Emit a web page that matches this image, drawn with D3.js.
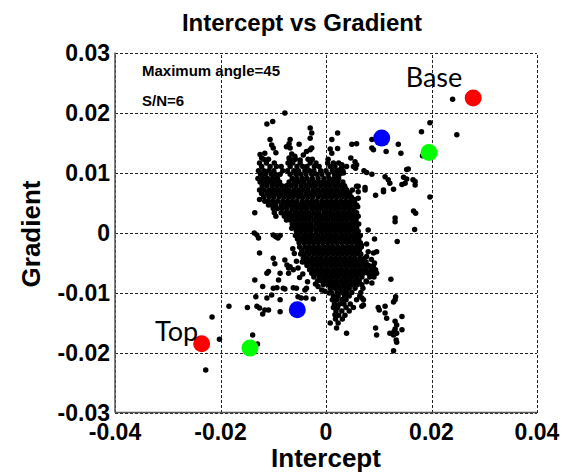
<!DOCTYPE html>
<html>
<head>
<meta charset="utf-8">
<script src="https://cdn.jsdelivr.net/npm/d3@7"></script>
<style>
  html, body { margin: 0; padding: 0; background: #fff; }
  svg { display: block; }
</style>
</head>
<body>
<svg id="chart" width="563" height="475"></svg>
<script>
// ---------------- DATA ----------------
const chartTitle = "Intercept vs Gradient";
const xAxisTitle = "Intercept";
const yAxisTitle = "Gradient";
const xTickValues = [-0.04, -0.02, 0, 0.02, 0.04];
const xTickLabels = ["-0.04", "-0.02", "0", "0.02", "0.04"];
const yTickValues = [-0.03, -0.02, -0.01, 0, 0.01, 0.02, 0.03];
const yTickLabels = ["-0.03", "-0.02", "-0.01", "0", "0.01", "0.02", "0.03"];
const infoLines = ["Maximum angle=45", "S/N=6"];

// dense core of the cloud, read row by row: [gradient (×1e-3), [intercepts (×1e-3)]]
const coreRows = [
  [12.2, [-11.8, -10.9, -6.9, -5.8, -3.4, -2.6, 0.4]],
  [11.6, [-12.6, -11.3, -9.8, -7.2, -6.3, -4.9, -3.0, -1.9, 0.3, 1.4, 2.4]],
  [11.0, [-12.2, -10.6, -9.4, -8.5, -6.8, -5.5, -4.4, -3.6, -2.2, -1.3, 0.8, 1.7, 3.0, 3.9]],
  [10.3, [-12.8, -11.8, -10.9, -9.9, -8.2, -7.3, -6.1, -5.2, -4.0, -3.1, -2.3, -1.0, 0.0, 1.2, 2.2, 3.2]],
  [9.7, [-12.4, -11.5, -10.4, -9.6, -8.7, -6.8, -5.7, -4.8, -3.8, -2.7, -1.8, -0.8, 0.4, 1.6, 2.6]],
  [9.0, [-12.9, -12.0, -11.1, -10.1, -9.2, -6.4, -5.5, -4.5, -3.6, -2.6, -1.5, -0.4, 0.6, 1.5, 2.4]],
  [8.4, [-12.5, -11.6, -10.7, -9.8, -8.8, -7.0, -6.0, -5.1, -4.2, -3.2, -2.3, -1.4, -0.5, 0.4, 1.3, 2.2, 3.2]],
  [7.8, [-12.1, -11.2, -10.2, -9.3, -8.4, -7.5, -6.6, -5.7, -4.7, -3.8, -2.9, -2.0, -1.0, -0.1, 0.8, 1.7, 2.6, 3.5]],
  [7.1, [-12.6, -11.7, -10.7, -9.8, -8.9, -8.0, -7.1, -6.1, -5.2, -4.3, -3.4, -2.4, -1.5, -0.6, 0.3, 1.2, 2.1, 3.0, 3.9, 5.0]],
  [6.5, [-12.2, -11.2, -10.3, -9.4, -8.5, -7.5, -6.6, -5.7, -4.8, -3.8, -2.9, -2.0, -1.1, -0.1, 0.8, 1.7, 2.6, 3.5, 4.4]],
  [5.9, [-11.8, -10.8, -9.9, -8.9, -8.0, -7.1, -6.2, -5.2, -4.3, -3.4, -2.5, -1.5, -0.6, 0.3, 1.2, 2.1, 3.0, 3.9, 4.8]],
  [5.2, [-11.6, -11.0, -10.1, -9.2, -8.2, -7.3, -6.4, -5.5, -4.5, -3.6, -2.7, -1.8, -0.8, 0.1, 1.0, 1.9, 2.8, 3.7, 4.6, 5.4]],
  [4.6, [-10.9, -10.3, -9.6, -8.5, -7.7, -6.8, -5.9, -5.0, -4.1, -3.1, -2.2, -1.3, -0.4, 0.5, 1.4, 2.3, 3.2, 4.1, 5.0, 5.8]],
  [4.0, [-10.0, -9.2, -8.3, -7.4, -6.4, -5.5, -4.6, -3.7, -2.7, -1.8, -0.9, 0.0, 0.9, 1.8, 2.7, 3.6, 4.5, 5.3]],
  [3.3, [-9.8, -8.5, -7.6, -6.8, -5.9, -5.0, -4.1, -3.2, -2.3, -1.4, -0.4, 0.5, 1.4, 2.3, 3.2, 4.1, 5.0, 5.8]],
  [2.7, [-9.5, -7.9, -7.2, -6.4, -5.5, -4.6, -3.7, -2.8, -1.8, -0.9, 0.0, 0.9, 1.8, 2.7, 3.6, 4.5, 5.4]],
  [2.1, [-7.5, -6.8, -5.9, -5.0, -4.1, -3.2, -2.3, -1.4, -0.5, 0.4, 1.3, 2.2, 3.1, 4.0, 4.9, 5.7]],
  [1.4, [-6.4, -5.5, -4.6, -3.7, -2.8, -1.8, -0.9, 0.0, 0.9, 1.8, 2.7, 3.6, 4.5, 5.4, 6.2]],
  [0.8, [-6.0, -5.1, -4.2, -3.3, -2.4, -1.4, -0.5, 0.4, 1.3, 2.2, 3.1, 4.0, 4.9, 5.8]],
  [0.2, [-5.6, -4.7, -3.8, -2.9, -1.9, -1.0, -0.1, 0.8, 1.7, 2.6, 3.5, 4.4, 5.3, 6.1]],
  [-0.5, [-5.8, -5.1, -4.2, -3.3, -2.4, -1.5, -0.6, 0.3, 1.2, 2.1, 3.0, 3.9, 4.8, 5.7, 6.5]],
  [-1.1, [-5.4, -4.6, -3.7, -2.8, -1.9, -1.0, -0.1, 0.8, 1.7, 2.6, 3.5, 4.4, 5.3, 6.2]],
  [-1.7, [-5.1, -4.2, -3.3, -2.4, -1.5, -0.6, 0.3, 1.2, 2.1, 3.0, 3.9, 4.8, 5.7, 6.5]],
  [-2.4, [-5.0, -4.0, -3.1, -2.2, -1.3, -0.4, 0.5, 1.4, 2.3, 3.2, 4.1, 5.0, 5.9, 6.7]],
  [-3.0, [-4.6, -3.6, -2.7, -1.8, -0.9, 0.0, 0.9, 1.8, 2.7, 3.6, 4.5, 5.4, 6.3]],
  [-3.6, [-4.8, -4.1, -3.2, -2.3, -1.4, -0.5, 0.4, 1.3, 2.2, 3.1, 4.0, 4.9, 5.8, 6.6]],
  [-4.3, [-4.3, -3.6, -2.7, -1.8, -0.9, 0.0, 0.9, 1.8, 2.7, 3.6, 4.5, 5.4, 6.4, 7.3]],
  [-4.9, [-4.5, -4.0, -3.1, -2.2, -1.3, -0.4, 0.5, 1.4, 2.3, 3.2, 4.1, 5.0, 5.9, 6.8, 7.6]],
  [-5.5, [-3.6, -2.7, -1.8, -0.9, 0.0, 0.9, 1.8, 2.7, 3.6, 4.5, 5.4, 6.3, 7.2, 8.1, 9.0]],
  [-6.2, [-3.1, -2.3, -1.4, -0.5, 0.4, 1.3, 2.2, 3.1, 4.0, 4.9, 5.8, 6.7, 7.6, 8.5, 9.4]],
  [-6.8, [-2.7, -1.8, -0.9, 0.0, 0.9, 1.8, 2.7, 3.6, 4.5, 5.4, 6.3, 7.1, 8.0, 8.9]],
  [-7.4, [-2.3, -1.3, -0.4, 0.5, 1.4, 2.3, 3.2, 4.1, 5.0, 5.9, 6.8, 8.3, 9.1]],
  [-8.1, [-1.6, -0.8, 0.1, 1.0, 1.9, 2.8, 3.7, 4.6, 5.5, 6.3, 7.6]],
  [-8.7, [-0.5, 0.5, 1.4, 2.3, 3.2, 4.1, 5.0, 5.9, 6.8]],
  [-9.3, [0.8, 1.7, 2.6, 3.5, 4.4, 5.5, 7.0]],
  [-10.0, [1.0, 2.1, 3.0, 3.9, 4.9, 6.6]],
  [-10.6, [1.4, 2.3, 3.5, 4.4, 6.4]],
  [-11.2, [1.2, 2.0, 3.0, 3.8, 5.8]],
  [-11.9, [1.6, 2.6, 3.4, 4.6]],
  [-12.5, [1.4, 2.2, 3.8, 5.2]],
  [-13.1, [1.9, 3.0, 4.4]],
  [-13.8, [2.4, 3.6]],
  [-14.4, [1.8, 3.1]]
];

// scattered points around the cloud: [intercept (×1e-3), gradient (×1e-3)]
const outerPoints = [
  [24.0, 22.2], [19.7, 18.3], [18.1, 16.8], [24.8, 16.3], [13.7, 14.7], [14.2, 13.2],
  [11.4, 13.5], [8.7, 15.5], [9.0, 13.8], [8.7, 14.1], [18.3, 12.8], [15.6, 10.6],
  [15.3, 10.5], [14.7, 9.2], [15.3, 8.9], [15.0, 8.2], [14.4, 8.0], [16.5, 8.8],
  [16.9, 8.5], [16.9, 7.9], [19.7, 5.9], [16.6, 3.6], [17.0, 3.2], [13.1, 2.4],
  [13.1, 1.8], [16.8, 0.5], [11.2, 9.3], [11.8, 8.8], [12.1, 8.2], [12.8, 7.2],
  [10.9, 7.1], [10.9, 6.8], [9.4, 6.2], [8.7, 9.7], [7.2, 10.3], [7.7, 10.0],
  [5.8, 14.8], [4.9, 14.7], [2.2, 16.6], [2.2, 14.0], [1.1, 15.5], [1.1, 13.2],
  [4.7, 12.4], [5.5, 11.8], [5.8, 11.3], [5.2, 11.0], [5.6, 10.7], [3.0, 11.3],
  [2.7, 10.5], [2.3, 9.6], [3.3, 9.9], [3.6, 7.5], [3.9, 7.1], [4.5, 6.6],
  [5.8, 7.7], [6.1, 6.8], [7.4, 7.1], [7.4, 7.5], [6.1, 7.7], [5.4, 5.5],
  [6.1, 5.7], [6.0, 4.3], [6.1, 2.7], [8.0, 0.4], [13.5, -1.5], [9.2, -1.1],
  [7.7, -1.9], [6.7, -2.1], [8.0, -3.2], [9.0, -3.4], [9.6, -3.2], [7.7, -4.0],
  [8.6, -4.5], [9.2, -5.1], [7.4, -5.4],
  [-7.8, 19.9], [-11.2, 18.1], [-10.1, 18.5], [-3.0, 17.4], [-2.7, 16.6], [-3.0, 15.7],
  [-5.1, 14.7], [-10.6, 15.5], [-10.3, 14.6], [-10.0, 14.1], [-6.8, 15.5], [-7.0, 14.8],
  [-6.8, 14.1], [-7.5, 14.3], [0.8, 13.9], [-9.5, 13.3], [-6.5, 13.1], [-7.0, 12.4],
  [-6.2, 12.1], [-5.9, 12.7], [-4.9, 12.1], [-4.3, 12.9], [-3.7, 13.5], [-3.0, 13.8],
  [-2.7, 14.1], [-12.5, 13.0], [-11.6, 13.2], [-12.2, 12.4], [-12.6, 5.5],
  [-13.5, 3.3], [-13.6, -0.1], [-13.1, -0.4], [-12.8, -0.9], [-12.6, -3.4],
  [-10.0, -0.4], [-9.5, -0.7], [-9.1, -0.9], [-8.7, -0.5], [-6.5, 0.7],
  [-10.0, -4.3], [-9.7, -5.2], [-7.8, -4.6], [-7.4, -5.4], [-6.8, -5.7],
  [-6.0, -3.5], [-5.6, -4.8], [-6.3, -2.7],
  [-13.5, -7.9], [-11.2, -6.8], [-10.9, -6.5], [-12.0, -9.0], [-8.7, -6.8], [-9.0, -7.9],
  [-7.1, -5.9], [-6.2, -6.2], [-5.3, -5.9], [-7.1, -6.8], [-10.0, -9.3], [-9.3, -9.2],
  [-8.1, -9.3], [-7.8, -9.4], [-6.2, -9.2], [-5.6, -9.3], [-4.0, -9.6], [-3.7, -9.3],
  [-0.8, -9.6], [-0.2, -9.8], [-5.0, -7.5], [-3.5, -8.2], [-2.0, -8.6], [-4.4, -6.9],
  [-1.5, -9.0], [-13.3, -10.7], [-11.2, -10.9], [-10.3, -10.4], [-8.7, -11.2],
  [-5.3, -10.7], [-4.7, -10.9], [-3.8, -10.9], [-2.4, -11.1], [-14.9, -12.5],
  [-13.1, -12.3], [-12.6, -12.6], [-11.6, -12.9], [-12.0, -13.6], [-10.9, -12.9],
  [-8.7, -13.2], [-13.9, -17.1], [-13.0, -18.6], [-18.4, -12.3], [-21.6, -14.1],
  [-20.2, -17.8], [-22.8, -22.9],
  [12.3, -7.8], [0.6, -10.1], [13.2, -10.7], [13.1, -11.2], [12.8, -11.6], [9.9, -12.5],
  [10.1, -12.9], [11.2, -12.3], [11.2, -13.4], [11.5, -14.3], [14.4, -14.0], [13.1, -14.8],
  [13.4, -15.4], [13.1, -16.1], [12.9, -16.5], [12.8, -17.1], [13.4, -16.8], [14.4, -16.2],
  [12.1, -16.8], [9.4, -15.9], [9.6, -17.1], [13.4, -18.3], [13.3, -17.9], [12.8, -19.7],
  [3.9, -16.8], [2.0, -15.9], [2.3, -15.1], [0.8, -15.1], [1.7, -13.7], [6.8, -10.9],
  [7.1, -12.1], [7.1, -11.2], [6.8, -12.3], [7.7, -8.2], [8.7, -8.4], [9.6, -6.8]
];

// highlighted points
const markerX = [0.0279, 0.01056, 0.01953, -0.02357, -0.01441, -0.00544];
const markerY = [0.0224, 0.01573, 0.01333, -0.01855, -0.01927, -0.01288];
const markerColor = ["#ff0000", "#0000ff", "#00ff00", "#ff0000", "#00ff00", "#0000ff"];
const labelText = ["Base", "Top"];
const labelX = [0.0151, -0.0324];
const labelY = [0.0243, -0.0181];

// ---------------- CHART ----------------
(function () {
const svg = d3.select("#chart");
const pL = 115, pR = 537, pT = 52.5, pB = 412.5;
const x = d3.scaleLinear().domain([-0.04, 0.04]).range([pL, pR]);
const y = d3.scaleLinear().domain([-0.03, 0.03]).range([pB, pT]);
const milli = 1e-3;

// grid (dashed)
const gx = svg.append("g").attr("transform", `translate(0,${pB})`)
  .call(d3.axisBottom(x).tickValues(xTickValues).tickSize(-(pB - pT)).tickFormat(""));
const gy = svg.append("g").attr("transform", `translate(${pL},0)`)
  .call(d3.axisLeft(y).tickValues(yTickValues).tickSize(-(pR - pL)).tickFormat(""));
[gx, gy].forEach(g => {
  g.select(".domain").remove();
  g.selectAll(".tick line").attr("stroke", "#222").attr("stroke-width", 1)
    .attr("stroke-dasharray", "3,2").attr("shape-rendering", "crispEdges");
});

// solid left & bottom axis lines
svg.append("line").attr("x1", pL).attr("x2", pL).attr("y1", pT).attr("y2", pB)
  .attr("stroke", "#555").attr("stroke-width", 1.5);
svg.append("line").attr("x1", pL).attr("x2", pR).attr("y1", pB).attr("y2", pB)
  .attr("stroke", "#555").attr("stroke-width", 1.5);

// tick labels
const tickFont = "'Liberation Sans', Arial, sans-serif";
svg.append("g").selectAll("text").data(xTickValues).join("text")
  .attr("x", d => x(d)).attr("y", 440)
  .attr("text-anchor", "middle")
  .attr("font-family", tickFont).attr("font-weight", "bold").attr("font-size", 23)
  .text((d, i) => xTickLabels[i]);
svg.append("g").selectAll("text").data(yTickValues).join("text")
  .attr("x", pL - 5).attr("y", d => y(d) + 8.2)
  .attr("text-anchor", "end")
  .attr("font-family", tickFont).attr("font-weight", "bold").attr("font-size", 23)
  .text((d, i) => yTickLabels[i]);

// titles
svg.append("text").attr("x", 302).attr("y", 31).attr("text-anchor", "middle")
  .attr("font-family", tickFont).attr("font-weight", "bold").attr("font-size", 24)
  .text(chartTitle);
svg.append("text").attr("x", 326).attr("y", 467).attr("text-anchor", "middle")
  .attr("font-family", tickFont).attr("font-weight", "bold").attr("font-size", 26)
  .text(xAxisTitle);
svg.append("text").attr("transform", "translate(40,234) rotate(-90)").attr("text-anchor", "middle")
  .attr("font-family", tickFont).attr("font-weight", "bold").attr("font-size", 26)
  .text(yAxisTitle);

// info text
svg.append("g").selectAll("text").data(infoLines).join("text")
  .attr("x", 142).attr("y", (d, i) => 76 + i * 30)
  .attr("font-family", tickFont).attr("font-weight", "bold").attr("font-size", 15)
  .text(d => d);

// points
const cloud = [];
coreRows.forEach(([gv, xs]) => xs.forEach(iv => cloud.push([iv, gv])));
outerPoints.forEach(p => cloud.push(p));

svg.append("g").selectAll("circle").data(cloud).join("circle")
  .attr("cx", d => x(d[0] * milli)).attr("cy", d => y(d[1] * milli))
  .attr("r", 2.75).attr("fill", "#000");

svg.append("g").selectAll("circle").data(markerX).join("circle")
  .attr("cx", d => x(d)).attr("cy", (d, i) => y(markerY[i]))
  .attr("r", 8.5).attr("fill", (d, i) => markerColor[i]);

// Base / Top labels
svg.append("g").selectAll("text").data(labelText).join("text")
  .attr("x", (d, i) => x(labelX[i])).attr("y", (d, i) => y(labelY[i]))
  .attr("font-family", "Lato, 'Open Sans', sans-serif").attr("font-size", 27)
  .attr("fill", "#000")
  .text(d => d);
})();
</script>
</body>
</html>
